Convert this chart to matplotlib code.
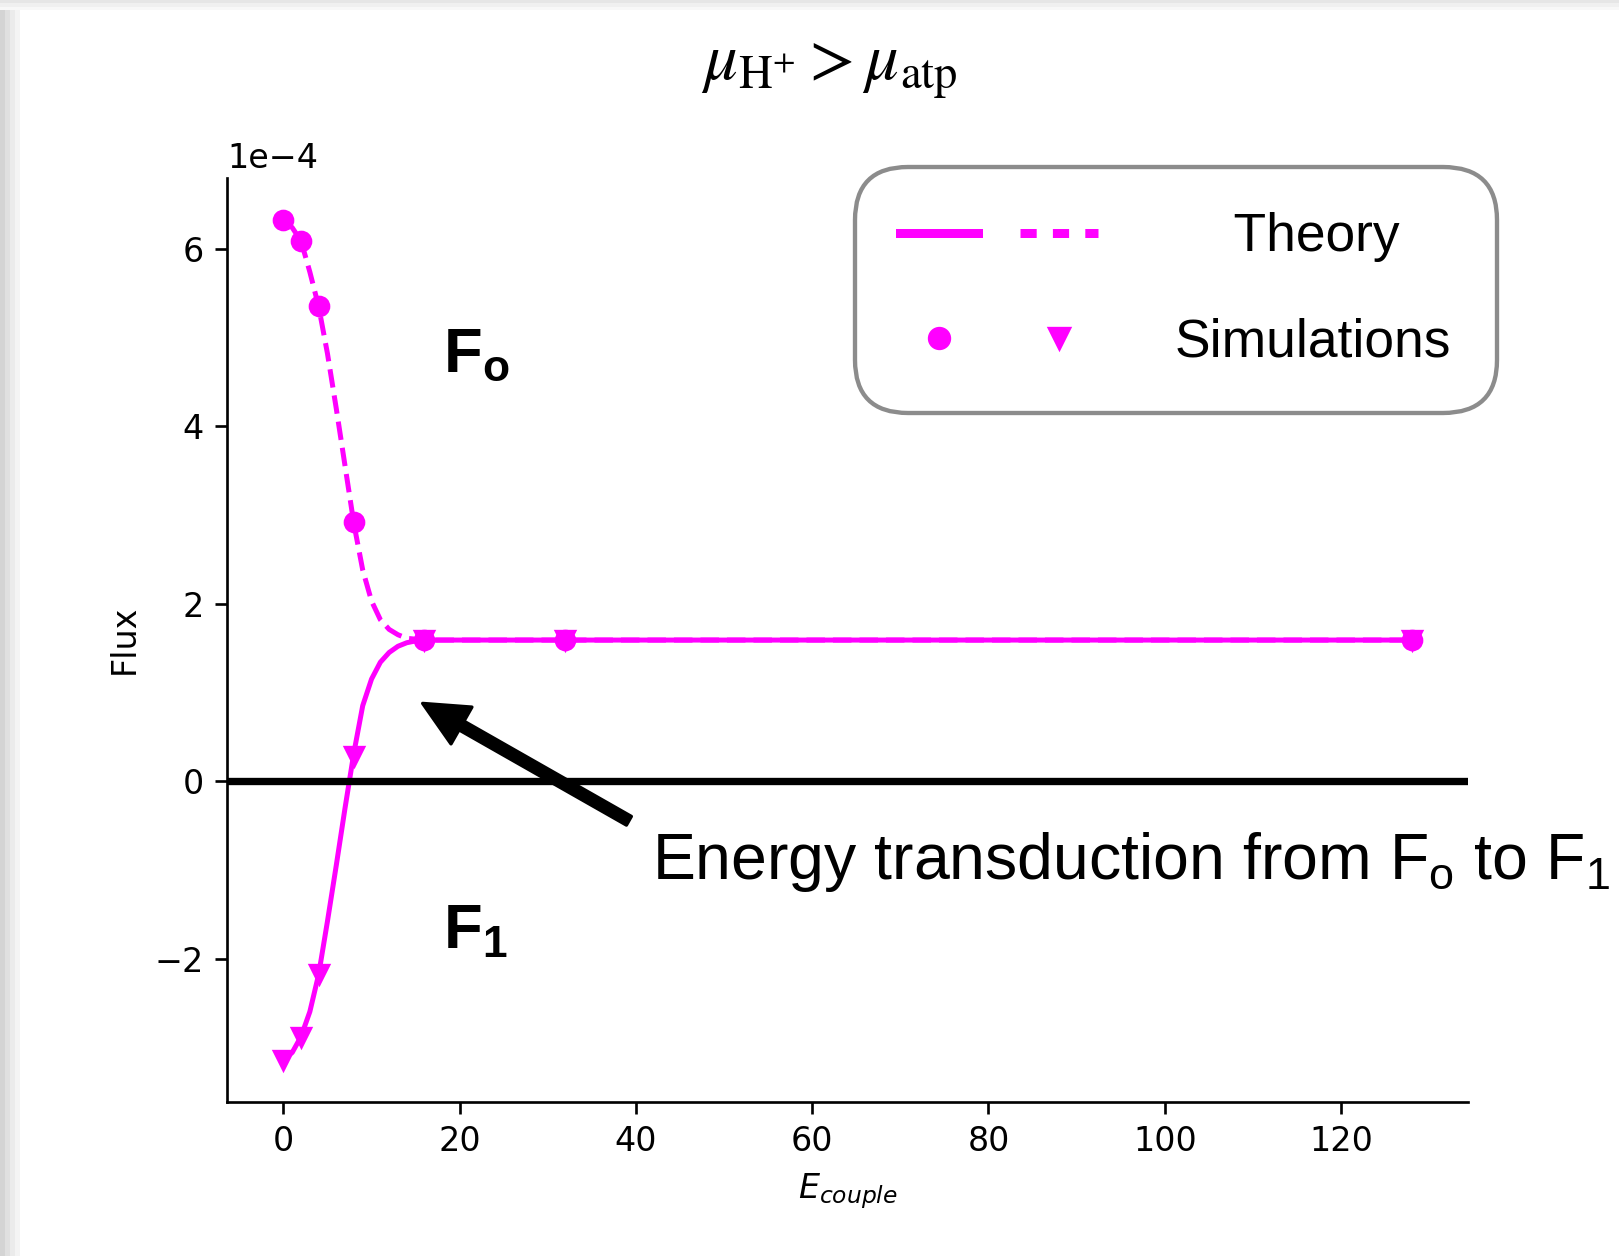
import matplotlib
matplotlib.use("Agg")
import matplotlib.pyplot as plt
from matplotlib.lines import Line2D
from matplotlib.patches import Rectangle
from matplotlib.legend_handler import HandlerTuple

# simulation points (flux in units of 1e-4)
sim_x = [0, 2, 4, 8, 16, 32, 128]
sim_fo = [6.33, 6.09, 5.36, 2.92, 1.59, 1.59, 1.59]
sim_f1 = [-3.14, -2.89, -2.18, 0.28, 1.59, 1.59, 1.59]

# theory curves
theory_x = [0, 1, 2, 3, 4, 5, 6, 7, 8, 9, 10, 11, 12, 13, 14, 15, 16, 20, 32, 64, 128]
theory_fo = [6.32, 6.24, 6.09, 5.74, 5.35, 4.82, 4.20, 3.55, 2.90, 2.38, 2.03, 1.82,
             1.71, 1.65, 1.61, 1.60, 1.59, 1.59, 1.59, 1.59, 1.59]
theory_f1 = [-3.13, -3.06, -2.88, -2.60, -2.18, -1.58, -0.95, -0.30, 0.32, 0.85, 1.15,
             1.34, 1.45, 1.52, 1.56, 1.58, 1.59, 1.59, 1.59, 1.59, 1.59]

scale = 1e-4
col = "#ff00ff"

plt.rcParams["mathtext.rm"] = "Liberation Sans"
plt.rcParams["mathtext.bf"] = "Liberation Sans:bold"
plt.rcParams["mathtext.it"] = "Liberation Sans:italic"

W, H, DPI = 1619, 1256, 240
fig = plt.figure(figsize=(W / DPI, H / DPI), dpi=DPI)

# screenshot shadow on the left and top
for i, c in enumerate(["#d4d4d4", "#e0e0e0", "#ebebeb", "#f4f4f4"]):
    fig.add_artist(Rectangle((i * 5 / W, 0), 5 / W, 1 - 10 / H, transform=fig.transFigure,
                             color=c, lw=0))
for i, c in enumerate(["#e6e6e6", "#f0f0f0", "#f8f8f8"]):
    fig.add_artist(Rectangle((0, 1 - (i + 1) * 3.4 / H), 1, 3.4 / H, transform=fig.transFigure,
                             color=c, lw=0))

ax = fig.add_axes([0.1402, 0.1229, 0.7665, 0.7357])

ax.plot(theory_x, [v * scale for v in theory_fo], color=col, ls="--", lw=1.5)
ax.plot(theory_x, [v * scale for v in theory_f1], color=col, ls="-", lw=1.5)
ax.plot(sim_x, [v * scale for v in sim_fo], "o", color=col, ms=5.5)
ax.plot(sim_x, [v * scale for v in sim_f1], "v", color=col, ms=5.5)
ax.axhline(0, color="k", lw=2.2)

ax.spines["top"].set_visible(False)
ax.spines["right"].set_visible(False)
ax.set_xticks([0, 20, 40, 60, 80, 100, 120])
ax.ticklabel_format(axis="y", style="sci", scilimits=(0, 0))
ax.set_xlabel("$E_{couple}$")
ax.set_ylabel("Flux")

fig.text(0.512, 0.947, r"$\mu_{\mathrm{H}^{+}} > \mu_{\mathrm{atp}}$", ha="center", va="center",
         fontsize=20, math_fontfamily="stix")

ax.text(18.1, 4.61 * scale, r"$\mathbf{F_o}$", fontsize=19, va="baseline",
        math_fontfamily="custom")
ax.text(18.1, -1.885 * scale, r"$\mathbf{F_1}$", fontsize=19, va="baseline",
        math_fontfamily="custom")

ax.annotate("", xy=(15.8, 0.876 * scale), xytext=(39.2, -0.447 * scale),
            arrowprops=dict(facecolor="k", edgecolor="k", width=3, headwidth=12.7,
                            headlength=13.4, shrink=0))
ax.text(41.8, -1.10 * scale, r"Energy transduction from F$_\mathrm{o}$ to F$_\mathrm{1}$",
        fontsize=19.3, family="Liberation Sans", va="baseline", math_fontfamily="custom",
        clip_on=False)

# legend
h_solid = Line2D([], [], color=col, lw=2.7)
h_dash = Line2D([], [], color=col, lw=2.7, ls=(0, (1.8, 1.8)))
h_circ = Line2D([], [], color=col, ls="none", marker="o", ms=6)
h_tri = Line2D([], [], color=col, ls="none", marker="v", ms=6)
leg = fig.legend([(h_solid, h_dash), (h_circ, h_tri)], ["    Theory", "Simulations"],
                 handler_map={tuple: HandlerTuple(ndivide=None, pad=0.8)},
                 loc="upper left", bbox_to_anchor=(855 / W, 1 - 167 / H),
                 borderaxespad=0, handlelength=3.7, handletextpad=1.45,
                 labelspacing=1.04, borderpad=0.85, fancybox=True, framealpha=1,
                 prop={"family": "Liberation Sans", "size": 16})
frame = leg.get_frame()
frame.set_edgecolor("#8c8c8c")
frame.set_linewidth(1.3)
frame.set_boxstyle("round", pad=0, rounding_size=1.0)

fig.savefig("out.png", dpi=DPI)
